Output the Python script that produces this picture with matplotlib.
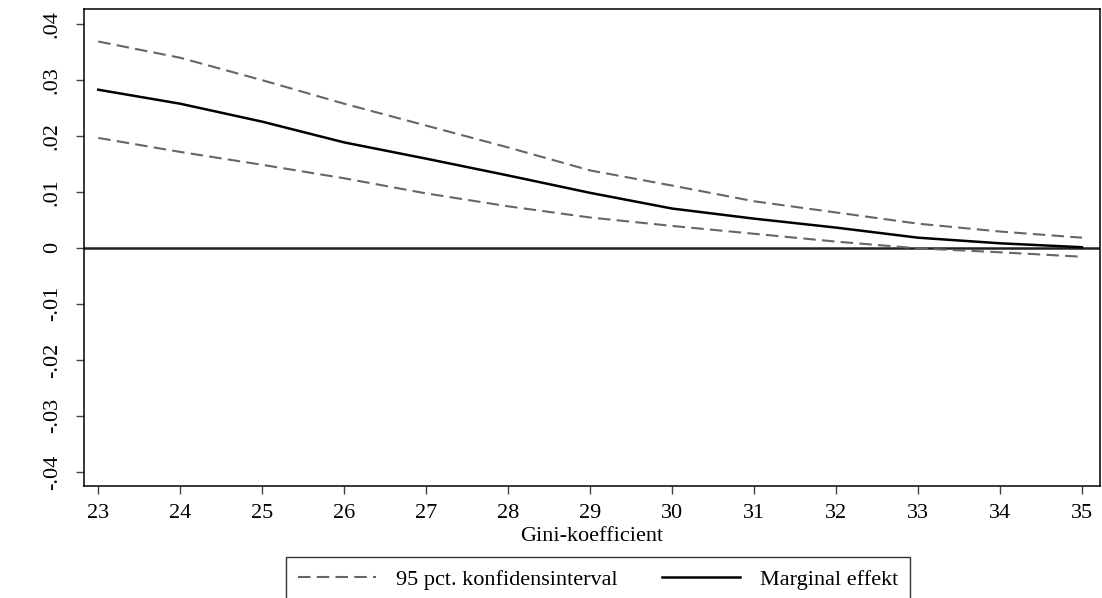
import numpy as np
import matplotlib.pyplot as plt

plt.rcParams['font.family'] = ['Liberation Serif', 'DejaVu Serif']

# Gini-koefficient og marginal effekt med 95 pct. konfidensinterval
gini = [23, 24, 25, 26, 27, 28, 29, 30, 31, 32, 33, 34, 35]
effekt = [0.0282, 0.0257, 0.0225, 0.0188, 0.0159, 0.0129, 0.0098,
          0.0070, 0.0052, 0.0036, 0.0018, 0.0008, 0.0001]
ci_hoej = [0.0368, 0.0339, 0.0299, 0.0257, 0.0218, 0.0179, 0.0138,
           0.0111, 0.0083, 0.0063, 0.0043, 0.0029, 0.0018]
ci_lav = [0.0196, 0.0171, 0.0148, 0.0124, 0.0097, 0.0074, 0.0054,
          0.0039, 0.0025, 0.0011, -0.0001, -0.0008, -0.0016]

y_ticks = [-0.04, -0.03, -0.02, -0.01, 0, 0.01, 0.02, 0.03, 0.04]
y_labels = ['-.04', '-.03', '-.02', '-.01', '0', '.01', '.02', '.03', '.04']

fig = plt.figure(figsize=(11.02, 5.98), dpi=100)
ax = fig.add_axes([84 / 1102, 1 - 486 / 598, 1016 / 1102, 477 / 598])

grey = '#666666'
ax.axhline(0, color='#222222', lw=1.8, zorder=1)
l1, = ax.plot(gini, ci_hoej, color=grey, lw=1.5, dashes=(6.0, 3.0))
ax.plot(gini, ci_lav, color=grey, lw=1.5, dashes=(6.0, 3.0))
l2, = ax.plot(gini, effekt, color='black', lw=1.8)

ax.set_xlim(22.826, 35.22)
ax.set_ylim(-0.0425, 0.0426)
ax.set_xticks(gini)
ax.set_yticks(y_ticks)
ax.set_yticklabels(y_labels, rotation=90, va='center')
ax.tick_params(labelsize=16, length=6, width=1, color='#444444')
ax.tick_params(axis='x', pad=7)
ax.tick_params(axis='y', pad=10)
for s in ax.spines.values():
    s.set_linewidth(1.1)

ax.set_xlabel('Gini-koefficient', fontsize=16, labelpad=3)

leg = fig.legend([l1, l2], ['95 pct. konfidensinterval', 'Marginal effekt'],
                 loc='upper center', bbox_to_anchor=(598 / 1102, 1 - 557 / 598),
                 ncol=2, fontsize=16, frameon=True, fancybox=False,
                 edgecolor='black', handlelength=3.5, handletextpad=0.9,
                 columnspacing=2.0, borderpad=0.55, borderaxespad=0)
leg.get_frame().set_linewidth(1.0)

fig.savefig('out.png', dpi=100)
